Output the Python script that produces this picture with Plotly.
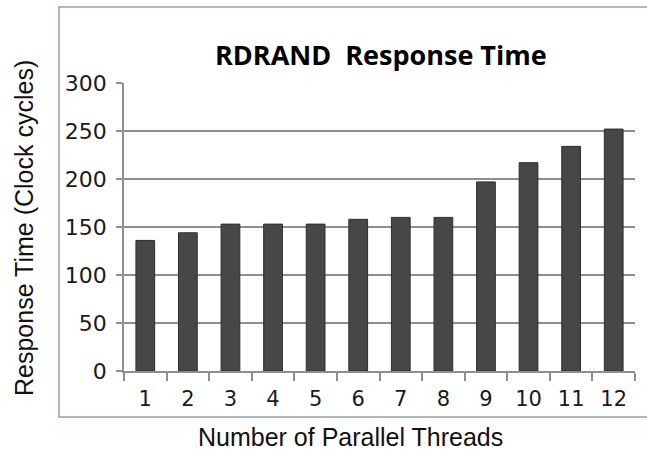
import plotly.graph_objects as go

threads = ["1", "2", "3", "4", "5", "6", "7", "8", "9", "10", "11", "12"]
response_cycles = [136, 144, 153, 153, 153, 158, 160, 160, 197, 217, 234, 252]
y_ticks = [0, 50, 100, 150, 200, 250, 300]

chart_title = "RDRAND  Response Time"
x_title = "Number of Parallel Threads"
y_title = "Response Time (Clock cycles)"

W, H = 647, 453
L, R, T, B = 124, 12, 83, 82
pw = W - L - R
ph = H - T - B

def px_x(x):
    return (x - L) / pw

def px_y(y):
    return (H - B - y) / ph

fig = go.Figure()
fig.add_trace(go.Bar(
    x=threads, y=response_cycles,
    marker=dict(color="#474747", line=dict(color="#2e2e2e", width=1)),
))

grid = "#8e8e8e"
fig.update_layout(
    width=W, height=H,
    margin=dict(l=L, r=R, t=T, b=B),
    paper_bgcolor="white", plot_bgcolor="white",
    bargap=0.56,
    showlegend=False,
    xaxis=dict(
        type="category", tickson="boundaries",
        ticks="outside", ticklen=8, tickcolor=grid, tickwidth=1.5,
        showline=True, linecolor=grid, linewidth=1.5,
        showgrid=False,
        tickfont=dict(family="DejaVu Sans", size=21, color="#1a1a1a"),
        ticklabelstandoff=8,
    ),
    yaxis=dict(
        range=[0, 300], tickvals=y_ticks, autorange=False,
        ticks="outside", ticklen=6, tickcolor=grid, tickwidth=1.5,
        showline=True, linecolor=grid, linewidth=1.5,
        showgrid=True, gridcolor=grid, gridwidth=1.5,
        zeroline=False,
        tickfont=dict(family="DejaVu Sans", size=22, color="#1a1a1a"),
        ticklabelstandoff=5,
    ),
    shapes=[dict(
        type="rect", xref="paper", yref="paper",
        x0=px_x(59), x1=px_x(670), y0=px_y(417), y1=px_y(7),
        line=dict(color="#a7b8bf", width=2), layer="below",
    )],
    annotations=[
        dict(text=f"<b>{chart_title}</b>", xref="paper", yref="paper",
             x=px_x(381), y=px_y(54), xanchor="center", yanchor="middle",
             showarrow=False, font=dict(family="Open Sans", size=27, color="#000")),
        dict(text=x_title, xref="paper", yref="paper",
             x=px_x(350), y=px_y(437), xanchor="center", yanchor="middle",
             showarrow=False, font=dict(family="Liberation Sans", size=25, color="#111")),
        dict(text=y_title, xref="paper", yref="paper",
             x=px_x(24), y=px_y(228), xanchor="center", yanchor="middle",
             textangle=-90,
             showarrow=False, font=dict(family="Liberation Sans", size=25, color="#111")),
    ],
)

fig.write_html("out.html", config={"displayModeBar": False},
               post_script="document.body.style.margin='0';document.body.style.padding='0';")
